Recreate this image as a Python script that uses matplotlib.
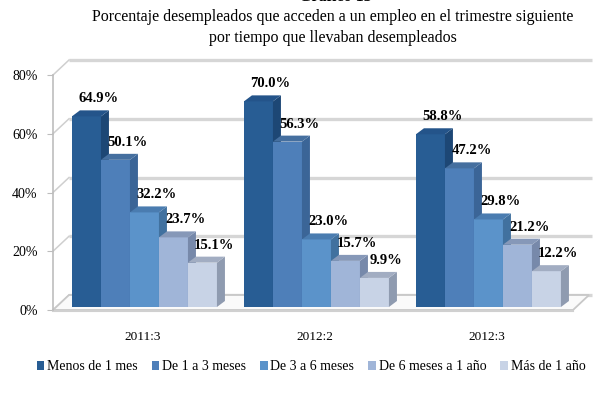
import matplotlib
matplotlib.use("Agg")
import matplotlib.pyplot as plt
from matplotlib.patches import Patch
import numpy as np

plt.rcParams["font.family"] = ["Liberation Serif", "DejaVu Serif"]

# data
categories = ["2011:3", "2012:2", "2012:3"]
series = ["Menos de 1 mes", "De 1 a 3 meses", "De 3 a 6 meses",
          "De 6 meses a 1 año", "Más de 1 año"]
menos_1_mes = [64.9, 70.0, 58.8]
de_1_a_3 = [50.1, 56.3, 47.2]
de_3_a_6 = [32.2, 23.0, 29.8]
de_6_a_12 = [23.7, 15.7, 21.2]
mas_1_anio = [15.1, 9.9, 12.2]
values = [menos_1_mes, de_1_a_3, de_3_a_6, de_6_a_12, mas_1_anio]
yticks = [0, 20, 40, 60, 80]

front_colors = ["#285d94", "#4e7fb9", "#5b93ca", "#a0b5d8", "#c8d3e6"]
side_colors = ["#1d4775", "#3b6597", "#41719f", "#7789aa", "#8f9bb0"]
top_colors = ["#24548a", "#456f9f", "#4a7cb0", "#8698b8", "#a2adc2"]

# geometry (pixels -> data units)
W, H = 610, 394
AX_L, AX_R, AX_B, AX_T = 53, 573, 310, 75
PX = 1 / 172.0
PY = 80.0 / (AX_B - AX_T)
XL = -0.52
XR = XL + (AX_R - AX_L) * PX
WALL_DX, WALL_DY = 16 * PX, 15 * PY
BAR_OFF_X, BAR_OFF_Y = 2 * PX, 3 * PY
BAR_DX, BAR_DY = 8 * PX, 6 * PY
bar_w = 29 * PX

fig = plt.figure(figsize=(W / 100, H / 100), dpi=100)
ax = fig.add_axes([AX_L / W, 1 - AX_B / H, (AX_R - AX_L) / W, (AX_B - AX_T) / H])
ax.set_xlim(XL, XR)
ax.set_ylim(0, 80)
for s in ["top", "right", "bottom"]:
    ax.spines[s].set_visible(False)
ax.spines["left"].set_color("#bdbdbd")
ax.spines["left"].set_linewidth(1.2)

# back wall gridlines + diagonal ticks
for g in yticks:
    ax.plot([XL + WALL_DX, XR + WALL_DX + 3 * PX], [g + WALL_DY, g + WALL_DY],
            color="#d6d6d6", lw=2.4, clip_on=False, zorder=1, solid_capstyle="butt")
    ax.plot([XL, XL + WALL_DX], [g, g + WALL_DY], color="#cfcfcf", lw=1.1,
            clip_on=False, zorder=1)

# floor
floor = [(XL, 0), (XR, 0), (XR + WALL_DX, WALL_DY), (XL + WALL_DX, WALL_DY)]
ax.fill([p[0] for p in floor], [p[1] for p in floor], facecolor="#fafafa",
        edgecolor="#c8c8c8", lw=1.3, clip_on=False, zorder=2)
ax.plot([XL, XR], [-1.2 * PY, -1.2 * PY], color="#d0d0d0", lw=1.5, clip_on=False, zorder=2)

# bars with fake depth
x = np.arange(len(categories))
n = len(series)
for i, (vals, fc, sc, tc) in enumerate(zip(values, front_colors, side_colors, top_colors)):
    xs = x + (i - (n - 1) / 2) * bar_w + BAR_OFF_X
    z = 3 + i * 3
    ax.bar(xs, vals, width=bar_w, bottom=BAR_OFF_Y, color=fc, zorder=z, clip_on=False)
    for xc, v in zip(xs, vals):
        xl, xr = xc - bar_w / 2, xc + bar_w / 2
        b, t = BAR_OFF_Y, v + BAR_OFF_Y
        ax.fill([xr, xr + BAR_DX, xr + BAR_DX, xr], [b, b + BAR_DY, t + BAR_DY, t],
                color=sc, zorder=z + 1, clip_on=False, lw=0)
        ax.fill([xl, xl + BAR_DX, xr + BAR_DX, xr], [t, t + BAR_DY, t + BAR_DY, t],
                color=tc, zorder=z + 1, clip_on=False, lw=0)
        ax.text(xc + 12 * PX, t + BAR_DY + 8 * PY, f"{v:.1f}%", ha="center",
                va="baseline", fontsize=10.5, fontweight="bold", zorder=30)

ax.set_yticks(yticks)
ax.set_yticklabels([f"{g}%" for g in yticks], fontsize=10)
ax.tick_params(axis="y", length=4, color="#bdbdbd", pad=7)
ax.set_xticks(x)
ax.set_xticklabels(categories, fontsize=9.5)
ax.tick_params(axis="x", length=0, pad=15)

# titles (the top line is cut by the page edge in the source)
fig.text(335 / W, 1 + 3 / H, "Gráfico 13", ha="center", va="center",
         fontsize=11.5, fontweight="bold")
fig.text(333 / W, 1 - 17 / H, "Porcentaje desempleados que acceden a un empleo en el trimestre siguiente",
         ha="center", va="center", fontsize=11.5)
fig.text(333 / W, 1 - 38 / H, "por tiempo que llevaban desempleados",
         ha="center", va="center", fontsize=11.5)

handles = [Patch(facecolor=c, edgecolor="none") for c in front_colors]
fig.legend(handles, series, loc="center", bbox_to_anchor=(311 / W, 1 - 367 / H),
           ncol=5, frameon=False, fontsize=10, handlelength=0.55, handleheight=0.55,
           handletextpad=0.2, columnspacing=1.0)

fig.savefig("out.png", dpi=100)
